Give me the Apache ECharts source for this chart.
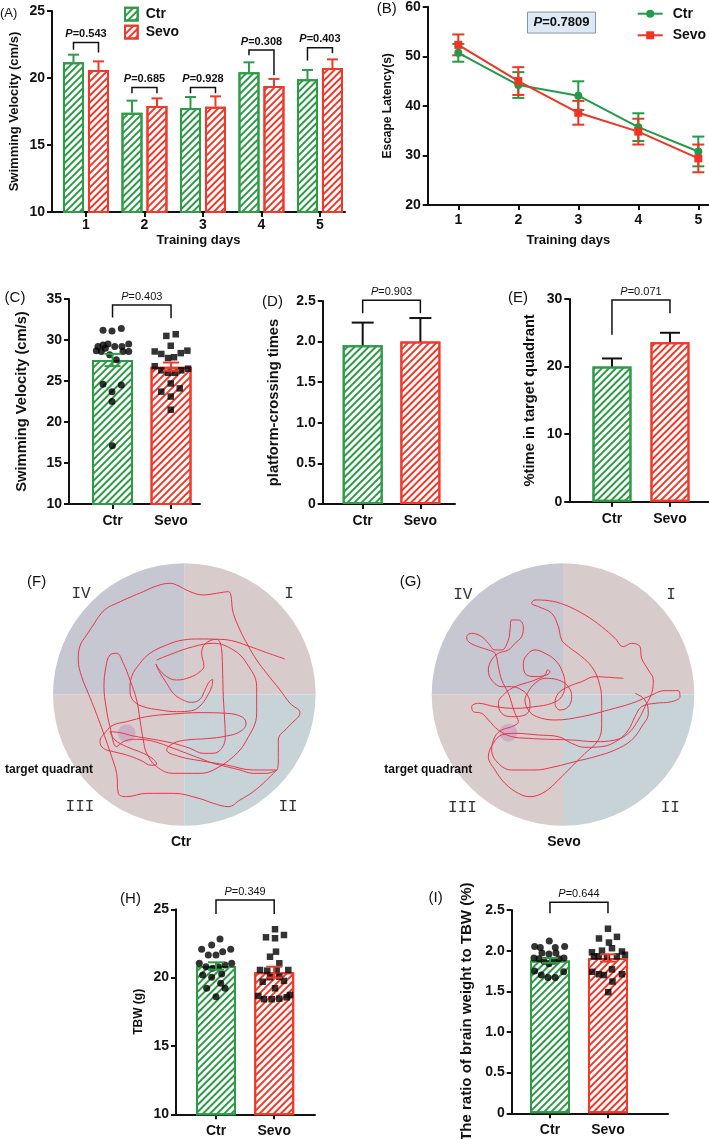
<!DOCTYPE html>
<html><head><meta charset="utf-8">
<script src="https://cdn.jsdelivr.net/npm/echarts@6/dist/echarts.min.js"></script>
<style>html,body{margin:0;padding:0;background:#fff}#c{width:709px;height:1139px}</style>
</head><body><div id="c"></div>
<script>
// ---------- DATA ----------
const days = [1, 2, 3, 4, 5];
const groups = ['Ctr', 'Sevo'];
// (A) swimming velocity by training day
const velCtr = [21.17, 17.41, 17.76, 20.42, 19.90];
const velCtrSem = [0.57, 0.90, 0.82, 0.75, 0.70];
const velSevo = [20.60, 17.91, 17.86, 19.40, 20.75];
const velSevoSem = [0.64, 0.57, 0.77, 0.53, 0.64];
const pA = ['0.543', '0.685', '0.928', '0.308', '0.403'];
const brTopA = [22.64, 19.30, 19.30, 22.09, 22.26];
const brLegCtrA = [22.10, 18.86, 18.86, 21.70, 21.30];
const brLegSevoA = [21.90, 18.86, 18.86, 20.20, 21.84];
// (B) escape latency
const latCtr = [50.7, 44.2, 42.05, 35.7, 30.8];
const latCtrSem = [1.8, 2.6, 2.9, 2.8, 3.0];
const latSevo = [52.3, 45.0, 38.6, 34.8, 29.4];
const latSevoSem = [2.1, 2.8, 2.4, 2.6, 2.8];
const pB = '0.7809';
// (C) swimming velocity probe
const velProbe = [27.56, 26.75];
const velProbeSem = [0.75, 0.50];
const velCtrDotsX = [0.838, 0.991, 1.150, 0.752, 0.838, 0.923, 0.723, 0.809, 0.877, 1.038, 1.162, 1.277, 1.179, 1.277, 0.952, 1.065, 0.838, 1.150, 0.991, 0.991, 0.997];
const velCtrDotsY = [31.2, 31.1, 31.4, 29.2, 29.4, 29.5, 28.7, 28.6, 29.0, 29.2, 29.2, 29.5, 28.6, 28.6, 28.2, 27.6, 24.6, 24.5, 23.7, 22.5, 17.1];
const velSevoDotsX = [1.920, 2.080, 1.995, 1.721, 1.834, 1.949, 2.051, 2.166, 2.279, 1.721, 1.834, 1.949, 2.063, 2.176, 2.291, 1.834, 1.995, 2.149, 1.995, 1.995];
const velSevoDotsY = [30.5, 30.7, 29.3, 28.6, 28.3, 27.8, 27.9, 28.4, 28.7, 26.8, 26.3, 26.0, 26.0, 26.3, 26.5, 23.7, 24.7, 24.1, 23.1, 21.5];
const pC = '0.403';
// (D) platform crossing times
const crossing = [1.954, 2.00];
const crossingSem = [0.28, 0.29];
const pD = '0.903';
// (E) % time in target quadrant
const targetTime = [20.0, 23.6];
const targetTimeSem = [1.2, 1.4];
const pE = '0.071';
// (H) TBW
const tbw = [20.85, 20.40];
const tbwSem = [0.27, 0.40];
const tbwCtrX = [1.069, 0.926, 0.754, 1.115, 1.253, 0.868, 1.000, 0.713, 0.828, 0.943, 1.040, 1.155, 1.270, 0.771, 0.926, 1.098, 0.840, 1.081, 1.155, 1.000];
const tbwCtrY = [22.83, 22.39, 22.07, 21.90, 22.07, 21.66, 21.66, 21.05, 20.80, 20.68, 20.80, 20.93, 21.05, 20.20, 20.03, 20.27, 19.22, 19.59, 19.22, 18.60];
const tbwSevoX = [2.014, 1.859, 2.014, 2.168, 2.031, 1.928, 2.088, 1.756, 1.881, 2.043, 2.242, 1.928, 2.088, 2.168, 1.802, 2.014, 1.727, 1.825, 1.957, 2.088, 2.215, 2.271];
const tbwSevoY = [23.54, 22.95, 22.88, 23.12, 21.90, 21.53, 21.05, 20.56, 20.51, 20.61, 20.56, 20.03, 20.07, 19.76, 19.70, 19.22, 18.66, 18.42, 18.42, 18.46, 18.56, 18.73];
const pH = '0.349';
// (I) brain weight / TBW
const ratio = [1.88, 1.91];
const ratioSem = [0.03, 0.045];
const ratioCtrX = [0.736, 0.833, 0.988, 1.091, 1.253, 0.862, 0.983, 1.103, 0.724, 0.810, 0.897, 0.983, 1.069, 1.155, 1.241, 0.736, 0.850, 0.966, 1.091, 1.236];
const ratioCtrY = [2.05, 2.04, 2.12, 2.04, 2.05, 1.97, 1.96, 1.97, 1.91, 1.90, 1.87, 1.84, 1.87, 1.90, 1.91, 1.75, 1.70, 1.67, 1.67, 1.74];
const ratioSevoX = [2.000, 1.845, 2.155, 2.017, 1.724, 1.897, 2.069, 2.241, 1.840, 1.983, 2.155, 2.069, 1.729, 1.845, 1.931, 2.241, 2.078, 2.005, 1.759, 2.293];
const ratioSevoY = [2.27, 2.15, 2.17, 2.10, 1.98, 2.00, 2.03, 1.99, 1.93, 1.92, 1.93, 1.77, 1.74, 1.71, 1.70, 1.71, 1.62, 1.49, 1.93, 1.95];
const pI = '0.644';
// (F)(G) swim paths, tracking-camera pixel units
const quadrantNames = ['I', 'II', 'III', 'IV'];
const quadrantShare = [1, 1, 1, 1];
const platformCtr = [380, 580];
const platformSevo = [460, 578];
const pathCtr = [[855,357],[800,338],[745,318],[695,302],[650,298],[615,312],[605,340],[612,378],[600,395],[570,412],[530,420],[500,410],[475,385],[468,372],[478,395],[500,430],[520,460],[545,478],[575,487],[600,478],[615,450],[628,425],[638,418],[635,440],[622,468],[600,498],[575,512],[530,515],[480,510],[430,500],[400,482],[390,450],[395,410],[420,370],[450,340],[500,315],[550,300],[600,297],[650,298],[665,330],[668,400],[670,470],[674,540],[676,590],[665,625],[640,640],[610,640],[570,625],[520,610],[460,598],[400,588],[360,578],[330,575],[345,600],[380,620],[430,640],[460,658],[470,672],[455,676],[420,660],[380,645],[340,635],[310,625],[300,605],[318,575],[340,555],[380,545],[440,530],[520,522],[600,518],[680,520],[728,532],[738,552],[720,575],[680,588],[620,596],[560,600],[520,610],[500,630],[540,650],[600,662],[680,675],[760,690],[830,690],[835,650],[835,600],[865,560],[900,518],[870,490],[840,450],[800,400],[770,360],[745,318],[720,270],[700,220],[685,155],[650,160],[610,165],[570,155],[530,135],[510,130],[470,138],[430,155],[390,172],[350,190],[320,205],[300,225],[280,255],[260,285],[240,318],[235,360],[245,410],[265,460],[285,510],[300,550],[318,600],[335,650],[350,700],[355,760],[380,770],[440,760],[520,760],[600,776],[640,790],[685,800],[720,780],[760,755],[800,720],[830,690],[800,700],[760,700],[720,690],[680,680],[640,670],[600,655],[560,640],[520,625],[480,610],[440,600],[400,598],[370,605],[350,620],[330,560],[318,500],[312,440],[318,380],[330,345],[350,340],[370,370],[390,420],[410,480],[420,540],[430,600],[440,640],[470,680],[520,700],[600,700],[640,690],[700,650],[740,600],[770,520],[770,440],[740,370],[700,330],[640,310],[580,320],[520,340],[470,360]];
const pathSevo = [[805,415],[760,412],[720,410],[680,425],[640,440],[610,460],[600,490],[615,510],[640,500],[650,470],[640,440],[610,420],[570,415],[540,430],[520,455],[510,480],[520,510],[545,530],[600,540],[680,530],[760,510],[830,490],[880,470],[930,452],[970,452],[975,470],[950,485],[900,490],[860,500],[840,530],[820,570],[790,600],[740,620],[690,622],[650,610],[610,590],[550,585],[480,580],[440,585],[415,610],[400,650],[420,690],[450,730],[490,760],[525,770],[570,755],[610,720],[650,680],[690,640],[730,600],[740,550],[740,480],[730,420],[710,380],[680,350],[640,320],[620,300],[610,260],[590,220],[550,200],[530,190],[540,180],[580,182],[630,195],[690,225],[740,260],[780,295],[805,320],[830,310],[855,320],[860,355],[880,390],[895,420],[890,460],[870,500],[850,540],[820,580],[780,600],[720,605],[650,600],[580,598],[520,595],[470,590],[430,570],[400,540],[380,520],[355,515],[350,500],[370,490],[420,500],[480,505],[540,500],[590,490],[620,470],[630,430],[620,390],[600,360],[570,340],[540,330],[520,340],[505,370],[510,400],[540,410],[575,405],[585,395],[578,390],[570,405],[540,420],[510,430],[480,440],[450,460],[430,490],[440,520],[470,530],[510,525],[525,500],[520,470],[500,450],[470,440],[440,440],[410,420],[400,390],[410,360],[430,340],[460,330],[480,310],[500,290],[505,260],[490,240],[470,240],[465,270],[460,300],[440,330],[420,330],[400,310],[380,290],[350,280],[335,290],[340,305],[370,320],[400,330],[420,340],[430,380],[440,420],[460,460],[470,490],[480,520],[490,545],[470,560],[440,570],[420,590],[410,630],[430,670],[470,690],[540,690],[600,680],[660,665],[720,650],[780,630],[830,600],[860,560],[880,520],[870,480],[840,460]];

// ---------- STYLE ----------
const FONT = 'Liberation Sans, Arial, sans-serif';
const GREEN = '#2f9a47', RED = '#ef3a2b', INK = '#111';
const LGREEN = '#229a49', LRED = '#ee3524';
const mkDecal = c => ({symbol: 'rect', symbolSize: 1, dashArrayX: [1, 0], dashArrayY: [1.3, 2.3], rotation: -Math.PI / 4, color: c});
const hatch = (c) => ({color: '#fff', borderColor: c, borderWidth: 2, decal: mkDecal(c)});
const grpColors = [GREEN, RED];

const grids = [
  {left: 52, top: 11, width: 293, height: 201},        // A
  {left: 427.7, top: 6.7, width: 281.3, height: 198.3}, // B
  {left: 69, top: 299, width: 131, height: 205},       // C
  {left: 322.7, top: 301, width: 132.3, height: 203},  // D
  {left: 569.3, top: 299, width: 139, height: 202.7},  // E
  {left: 53.3, top: 563.3, width: 261.7, height: 262.7}, // F
  {left: 431.7, top: 563.3, width: 262.6, height: 262.7},// G
  {left: 176, top: 909.3, width: 139, height: 205},    // H
  {left: 511.7, top: 910, width: 156.3, height: 203.3} // I
].map(g => Object.assign({outerBoundsMode: 'none', containLabel: false}, g));

const axLine = {show: true, onZero: false, lineStyle: {color: INK, width: 2}};
const axTick = {show: true, length: 5, lineStyle: {color: INK, width: 2}};
function xCat(gi, min, max, vals, labels, name, nameGap, margin) {
  return {gridIndex: gi, type: 'value', min, max, axisLine: axLine,
    axisTick: Object.assign({customValues: vals}, axTick),
    axisLabel: {customValues: vals, formatter: v => labels[vals.indexOf(Math.round(v))], color: INK, fontWeight: 'bold', fontSize: 14, margin: margin, fontFamily: FONT},
    splitLine: {show: false}, name: name || '', nameLocation: 'middle', nameGap: nameGap || 0,
    nameTextStyle: {fontWeight: 'bold', fontSize: 13, color: INK, fontFamily: FONT}};
}
function yVal(gi, min, max, interval, name, nameGap, nameSize, fmt) {
  return {gridIndex: gi, type: 'value', min, max, interval, axisLine: axLine, axisTick: axTick,
    axisLabel: {color: INK, fontWeight: 'bold', fontSize: 14, margin: 7, fontFamily: FONT, formatter: fmt},
    splitLine: {show: false}, name, nameLocation: 'middle', nameGap,
    nameTextStyle: {fontWeight: 'bold', fontSize: nameSize, color: INK, fontFamily: FONT}};
}
const dec1 = v => (v === 0 ? '0' : v.toFixed(1));
const hid = (gi, min, max, inv) => ({gridIndex: gi, type: 'value', min, max, inverse: !!inv, show: false});

const xAxes = [
  xCat(0, 0.419, 5.428, days, days.map(String), 'Training days', 22, 6),
  xCat(1, 0.49, 5.178, days, days.map(String), 'Training days', 29, 8),
  xCat(2, 0.256, 2.495, [1, 2], groups, '', 0, 10),
  xCat(3, 0.307, 2.600, [1, 2], groups, '', 0, 10),
  xCat(4, 0.264, 2.661, [1, 2], groups, '', 0, 10),
  hid(5, 160, 945), hid(6, 230, 1018),
  xCat(7, 0.313, 2.701, [1, 2], groups, '', 0, 10),
  xCat(8, 0.340, 3.035, [1, 2], groups, '', 0, 10)
];
const yAxes = [
  yVal(0, 10, 25, 5, 'Swimming Velocity (cm/s)', 31, 13),
  yVal(1, 20, 60, 10, 'Escape Latency(s)', 34, 12),
  yVal(2, 10, 35, 5, 'Swimming Velocity (cm/s)', 40, 14.7),
  yVal(3, 0, 2.5, 0.5, 'platform-crossing times', 41, 14.7, dec1),
  yVal(4, 0, 30, 10, '%time in target quadrant', 32, 14.7),
  hid(5, 70, 858, true), hid(6, 70, 858, true),
  yVal(7, 10, 25, 5, 'TBW (g)', 31, 12),
  yVal(8, 0, 2.5, 0.5, 'The ratio of brain weight to TBW (%)', 37, 15, dec1)
];

// ---------- RENDERERS ----------
function errRender(offset, colorFn, capHalf, both) {
  return function (params, api) {
    const x = api.value(0), m = api.value(1), s = api.value(2);
    const top = api.coord([x, m + s]), mid = api.coord([x, m]), bot = api.coord([x, m - s]);
    const cx = top[0] + offset, col = colorFn(params.dataIndex);
    const st = {stroke: col, lineWidth: 2};
    const ch = [
      {type: 'line', shape: {x1: cx, y1: both ? bot[1] : mid[1], x2: cx, y2: top[1]}, style: st},
      {type: 'line', shape: {x1: cx - capHalf, y1: top[1], x2: cx + capHalf, y2: top[1]}, style: st}
    ];
    if (both) ch.push({type: 'line', shape: {x1: cx - capHalf, y1: bot[1], x2: cx + capHalf, y2: bot[1]}, style: st});
    return {type: 'group', children: ch};
  };
}
function bracketRender(off1, off2, labels, bold, size) {
  return function (params, api) {
    const x1 = api.value(0), x2 = api.value(1), t = api.value(2), l1 = api.value(3), l2 = api.value(4);
    const a = api.coord([x1, l1]), b = api.coord([x1, t]), c = api.coord([x2, t]), d = api.coord([x2, l2]);
    const ax = a[0] + off1, cx = c[0] + off2;
    const fw = bold ? 'bold' : 'normal';
    return {type: 'group', children: [
      {type: 'polyline', shape: {points: [[ax, a[1]], [ax, b[1]], [cx, c[1]], [cx, d[1]]]}, style: {stroke: INK, lineWidth: 1.5, fill: null}},
      {type: 'text', x: (ax + cx) / 2, y: b[1] - 3, style: {
        text: '{p|P}{n|=' + labels[params.dataIndex] + '}', align: 'center', verticalAlign: 'bottom',
        rich: {p: {fontStyle: 'italic', fontWeight: fw, fontSize: size, fill: INK, fontFamily: FONT},
               n: {fontWeight: fw, fontSize: size, fill: INK, fontFamily: FONT}}}}
    ]};
  };
}
const bracketSeries = (gi, data, labels, off1, off2, bold, size) => ({type: 'custom', xAxisIndex: gi, yAxisIndex: gi, data, renderItem: bracketRender(off1, off2, labels, bold, size), silent: true, z: 6});
const errSeries = (gi, data, off, colorFn, capHalf, both) => ({type: 'custom', xAxisIndex: gi, yAxisIndex: gi, data, renderItem: errRender(off, colorFn, capHalf, both), silent: true, z: 5});
const barPair = (gi, vals, width) => ({type: 'bar', xAxisIndex: gi, yAxisIndex: gi, barWidth: width, silent: true,
  data: vals.map((v, i) => ({value: [i + 1, v], itemStyle: hatch(grpColors[i])})), z: 2});
const dots = (gi, xs, ys, sym, size) => ({type: 'scatter', xAxisIndex: gi, yAxisIndex: gi, symbol: sym, symbolSize: size, silent: true,
  itemStyle: {color: '#000'}, data: xs.map((x, i) => [x, ys[i]]), z: 4});
const pool = (center, colors) => ({type: 'pie', center, radius: 131.3, startAngle: 90, silent: true, label: {show: false}, labelLine: {show: false},
  emphasis: {disabled: true}, data: quadrantShare.map((v, i) => ({name: quadrantNames[i], value: v, itemStyle: {color: colors[i], borderWidth: 0}})), z: 1});
const qColors = ['#d8cbcb', '#c8d3d8', '#d9cccc', '#c6c7d0'];
const pathLine = (gi, path) => ({type: 'line', xAxisIndex: gi, yAxisIndex: gi, data: path, smooth: 0.4, symbol: 'none', silent: true,
  lineStyle: {color: '#e8364d', width: 1}, z: 4});
const platform = (gi, p) => ({type: 'scatter', xAxisIndex: gi, yAxisIndex: gi, data: [p], symbolSize: 18, silent: true,
  itemStyle: {color: 'rgba(190,140,190,0.55)'}, z: 3});
const idxColor = i => grpColors[i];
const black = () => INK;

const series = [
  // A
  {type: 'bar', name: 'Ctr', xAxisIndex: 0, yAxisIndex: 0, barWidth: 21, barGap: '19%', silent: true, data: days.map((d, i) => [d, velCtr[i]]), itemStyle: hatch(GREEN)},
  {type: 'bar', name: 'Sevo', xAxisIndex: 0, yAxisIndex: 0, barWidth: 21, barGap: '19%', silent: true, data: days.map((d, i) => [d, velSevo[i]]), itemStyle: hatch(RED)},
  errSeries(0, days.map((d, i) => [d, velCtr[i], velCtrSem[i]]), -12.5, () => GREEN, 5.5, false),
  errSeries(0, days.map((d, i) => [d, velSevo[i], velSevoSem[i]]), 12.5, () => RED, 5.5, false),
  bracketSeries(0, days.map((d, i) => [d, d, brTopA[i], brLegCtrA[i], brLegSevoA[i]]), pA, -12.5, 12.5, true, 11),
  // B
  errSeries(1, days.map((d, i) => [d, latCtr[i], latCtrSem[i]]), 0, () => LGREEN, 6, true),
  errSeries(1, days.map((d, i) => [d, latSevo[i], latSevoSem[i]]), 0, () => LRED, 6, true),
  {type: 'line', name: 'Ctr ', xAxisIndex: 1, yAxisIndex: 1, data: days.map((d, i) => [d, latCtr[i]]), symbol: 'circle', symbolSize: 8, silent: true,
    lineStyle: {color: LGREEN, width: 2}, itemStyle: {color: LGREEN}, z: 6},
  {type: 'line', name: 'Sevo ', xAxisIndex: 1, yAxisIndex: 1, data: days.map((d, i) => [d, latSevo[i]]), symbol: 'rect', symbolSize: 8, silent: true,
    lineStyle: {color: LRED, width: 2}, itemStyle: {color: LRED}, z: 6},
  {type: 'custom', xAxisIndex: 1, yAxisIndex: 1, data: [[2.72, 56.8]], silent: true, z: 7,
    renderItem: (params, api) => {
      const p = api.coord([api.value(0), api.value(1)]);
      return {type: 'group', children: [
        {type: 'rect', shape: {x: p[0] - 34, y: p[1] - 10.5, width: 68, height: 21}, style: {fill: '#dde9f5', stroke: '#8796a4', lineWidth: 1}},
        {type: 'text', x: p[0], y: p[1], style: {text: '{p|P}{n|=' + pB + '}', align: 'center', verticalAlign: 'middle',
          rich: {p: {fontStyle: 'italic', fontWeight: 'bold', fontSize: 13, fill: INK, fontFamily: FONT}, n: {fontWeight: 'bold', fontSize: 13, fill: INK, fontFamily: FONT}}}}
      ]};
    }},
  // C
  barPair(2, velProbe, 41),
  dots(2, velCtrDotsX, velCtrDotsY, 'circle', 7),
  dots(2, velSevoDotsX, velSevoDotsY, 'rect', 6.5),
  errSeries(2, velProbe.map((v, i) => [i + 1, v, velProbeSem[i]]), 0, idxColor, 8, true),
  bracketSeries(2, [[1, 2, 34.27, 32.75, 32.65]], [pC], 0, 0, false, 11),
  // D
  barPair(3, crossing, 40),
  errSeries(3, crossing.map((v, i) => [i + 1, v, crossingSem[i]]), 0, black, 11, false),
  bracketSeries(3, [[1, 2, 2.51, 2.35, 2.35]], [pD], 0, 0, false, 11),
  // E
  barPair(4, targetTime, 39),
  errSeries(4, targetTime.map((v, i) => [i + 1, v, targetTimeSem[i]]), 0, black, 10, false),
  bracketSeries(4, [[1, 2, 29.85, 24.7, 27.9]], [pE], 0, 0, false, 11),
  // F
  pool([184.3, 694.5], qColors),
  platform(5, platformCtr),
  pathLine(5, pathCtr),
  // G
  pool([563, 694.5], qColors),
  platform(6, platformSevo),
  pathLine(6, pathSevo),
  // H
  barPair(7, tbw, 40),
  dots(7, tbwCtrX, tbwCtrY, 'circle', 7),
  dots(7, tbwSevoX, tbwSevoY, 'rect', 6.5),
  errSeries(7, tbw.map((v, i) => [i + 1, v, tbwSem[i]]), 0, idxColor, 8, true),
  bracketSeries(7, [[1, 2, 25.68, 24.66, 24.66]], [pH], 0, 0, false, 11),
  // I
  barPair(8, ratio, 40),
  dots(8, ratioCtrX, ratioCtrY, 'circle', 7),
  dots(8, ratioSevoX, ratioSevoY, 'rect', 6.5),
  errSeries(8, ratio.map((v, i) => [i + 1, v, ratioSem[i]]), 0, idxColor, 8, true),
  bracketSeries(8, [[1, 2, 2.595, 2.46, 2.46]], [pI], 0, 0, false, 11)
];

function txt(text, x, y, font, align, fill) {
  return {type: 'text', x, y, silent: true, z: 100, style: {text, font, fill: fill || INK,
    textAlign: align || 'center', align: align || 'center', textVerticalAlign: 'middle', verticalAlign: 'middle'}};
}
const PL = 'normal 15px ' + FONT, RN = '16px Liberation Mono, monospace', TQ = 'bold 12px ' + FONT, GL = 'bold 14px ' + FONT;
const graphic = [
  txt('(A)', 0, 13, 'normal 13px ' + FONT, 'left'), txt('(B)', 396.7, 9, PL, 'right'),
  txt('(C)', 15, 297.5, PL), txt('(D)', 272.5, 301.5, PL), txt('(E)', 518, 298, PL),
  txt('(F)', 36.7, 581.5, PL), txt('(G)', 410.5, 582, PL), txt('(H)', 130.5, 899, PL), txt('(I)', 435.7, 897.5, PL),
  txt('IV', 81, 594, RN, null, '#333'), txt('I', 289, 594, RN, null, '#333'), txt('III', 80, 807, RN, null, '#333'), txt('II', 288, 807, RN, null, '#333'),
  txt('IV', 462.8, 595, RN, null, '#333'), txt('I', 671, 595, RN, null, '#333'), txt('III', 462.5, 808, RN, null, '#333'), txt('II', 670.3, 808, RN, null, '#333'),
  txt('target quadrant', 49, 770, TQ), txt('target quadrant', 428.3, 770, TQ),
  txt('Ctr', 181, 842, GL), txt('Sevo', 564, 842, GL)
];

const option = {
  animation: false,
  textStyle: {fontFamily: FONT},
  grid: grids,
  xAxis: xAxes,
  yAxis: yAxes,
  legend: [
    {left: 124, top: 6.7, padding: 0, orient: 'vertical', itemWidth: 12.7, itemHeight: 12.7, itemGap: 3.3, selectedMode: false, icon: 'rect',
      data: ['Ctr', 'Sevo'], textStyle: {fontWeight: 'bold', fontSize: 14, color: INK, padding: [0, 0, 0, 3]}},
    {left: 636.7, top: 6.7, padding: 0, orient: 'vertical', itemWidth: 25, itemHeight: 10, itemGap: 7.6, selectedMode: false,
      data: ['Ctr ', 'Sevo '], formatter: n => n.trim(), textStyle: {fontWeight: 'bold', fontSize: 14, color: INK, padding: [0, 0, 0, 5]}}
  ],
  series,
  graphic
};
const chart = echarts.init(document.getElementById('c'), null, {renderer: 'canvas'});
chart.setOption(option);
</script></body></html>
